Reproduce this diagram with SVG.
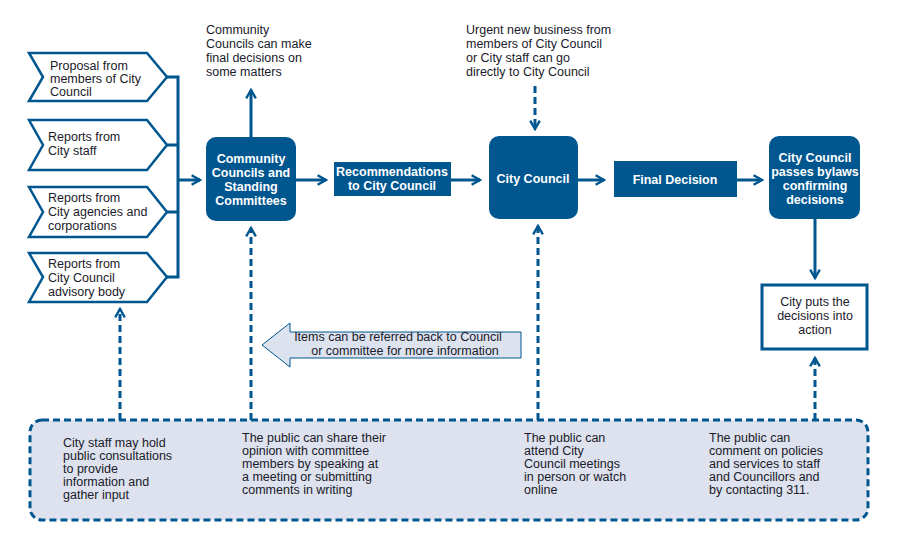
<svg xmlns="http://www.w3.org/2000/svg" width="909" height="553" viewBox="0 0 909 553">
<style>
text{font-family:"Liberation Sans",Arial,sans-serif;font-size:12.5px;fill:#1a1a2a}
.w{fill:#fff;text-anchor:middle;font-weight:bold;font-size:12.5px}
.c{text-anchor:middle}
.chev{fill:#fff;stroke:#00568f;stroke-width:2.5}
.dark{fill:#00568f}
.ln{stroke:#00568f;stroke-width:3;fill:none}
.ds{stroke:#00568f;stroke-width:3;fill:none;stroke-dasharray:7,4}
</style>
<defs>
<marker id="a" viewBox="0 0 10 10" refX="8" refY="5" markerWidth="4" markerHeight="4" orient="auto"><path d="M1,1 L8,5 L1,9" fill="none" stroke="#00568f" stroke-width="2"/></marker>
</defs>
<g id="connectors">
<path class="ln" d="M167,77 H178 V277 H167 M167,145 H178 M167,212 H178"/>
<path class="ln" d="M178,180 H200" marker-end="url(#a)"/>
<path class="ln" d="M251,137 V90" marker-end="url(#a)"/>
<path class="ln" d="M296,180 H326" marker-end="url(#a)"/>
<path class="ln" d="M451,180 H480" marker-end="url(#a)"/>
<path class="ln" d="M578,180 H604" marker-end="url(#a)"/>
<path class="ln" d="M737,180 H762" marker-end="url(#a)"/>
<path class="ln" d="M815,219 V278" marker-end="url(#a)"/>
<path class="ds" d="M535,86 V129" marker-end="url(#a)"/>
<path class="ds" d="M120,420 V309" marker-end="url(#a)"/>
<path class="ds" d="M251,420 V228" marker-end="url(#a)"/>
<path class="ds" d="M538,420 V226" marker-end="url(#a)"/>
<path class="ds" d="M815,420 V358" marker-end="url(#a)"/>
</g>
<g id="src1"><path class="chev" d="M29,53 H147 L167,77 L147,101 H29 L43,77 Z"/><text x="50" y="70">Proposal from</text><text x="50" y="83">members of City</text><text x="50" y="96">Council</text></g>
<g id="src2"><path class="chev" d="M29,120 H147 L167,145 L147,170 H29 L43,145 Z"/><text x="48" y="141">Reports from</text><text x="48" y="155">City staff</text></g>
<g id="src3"><path class="chev" d="M29,187 H147 L167,212 L147,237 H29 L43,212 Z"/><text x="48" y="202">Reports from</text><text x="48" y="216">City agencies and</text><text x="48" y="230">corporations</text></g>
<g id="src4"><path class="chev" d="M29,253 H147 L167,277 L147,302 H29 L43,277 Z"/><text x="48" y="268">Reports from</text><text x="48" y="282">City Council</text><text x="48" y="296">advisory body</text></g>
<g id="note1"><text x="206" y="34">Community</text><text x="206" y="48">Councils can make</text><text x="206" y="62">final decisions on</text><text x="206" y="76">some matters</text></g>
<g id="note2"><text x="466" y="34">Urgent new business from</text><text x="466" y="48">members of City Council</text><text x="466" y="62">or City staff can go</text><text x="466" y="76">directly to City Council</text></g>
<g id="committees"><rect class="dark" x="206" y="137" width="90" height="84" rx="10"/><text class="w" x="251" y="163">Community</text><text class="w" x="251" y="177">Councils and</text><text class="w" x="251" y="191">Standing</text><text class="w" x="251" y="205">Committees</text></g>
<g id="recs"><rect class="dark" x="334" y="162" width="117" height="34"/><text class="w" x="392" y="176">Recommendations</text><text class="w" x="392" y="190">to City Council</text></g>
<g id="council"><rect class="dark" x="489" y="136" width="89" height="83" rx="10"/><text class="w" x="533" y="183">City Council</text></g>
<g id="final"><rect class="dark" x="614" y="161" width="123" height="36"/><text class="w" x="675" y="184">Final Decision</text></g>
<g id="bylaws"><rect class="dark" x="769" y="136" width="91" height="83" rx="10"/><text class="w" x="815" y="162">City Council</text><text class="w" x="815" y="176">passes bylaws</text><text class="w" x="815" y="190">confirming</text><text class="w" x="815" y="204">decisions</text></g>
<g id="action"><rect x="762" y="285" width="105" height="64" fill="#fff" stroke="#00568f" stroke-width="3"/><text class="c" x="815" y="306">City puts the</text><text class="c" x="815" y="320">decisions into</text><text class="c" x="815" y="334">action</text></g>
<g id="referback"><path d="M521,332 H290 V323 L262,345 L290,367 V358 H521 Z" fill="#dce3ef" stroke="#00568f" stroke-width="1"/><text class="c" x="398" y="341">Items can be referred back to Council</text><text class="c" x="405" y="355">or committee for more information</text></g>
<g id="public"><rect x="30" y="420" width="838" height="100" rx="12" fill="#dde2ee" stroke="#00568f" stroke-width="3" stroke-dasharray="7,4"/>
<text x="63" y="447">City staff may hold</text><text x="63" y="460">public consultations</text><text x="63" y="473">to provide</text><text x="63" y="486">information and</text><text x="63" y="499">gather input</text>
<text x="242" y="442">The public can share their</text><text x="242" y="455">opinion with committee</text><text x="242" y="468">members by speaking at</text><text x="242" y="481">a meeting or submitting</text><text x="242" y="494">comments in writing</text>
<text x="524" y="442">The public can</text><text x="524" y="455">attend City</text><text x="524" y="468">Council meetings</text><text x="524" y="481">in person or watch</text><text x="524" y="494">online</text>
<text x="709" y="442">The public can</text><text x="709" y="455">comment on policies</text><text x="709" y="468">and services to staff</text><text x="709" y="481">and Councillors and</text><text x="709" y="494">by contacting 311.</text>
</g>
</svg>
